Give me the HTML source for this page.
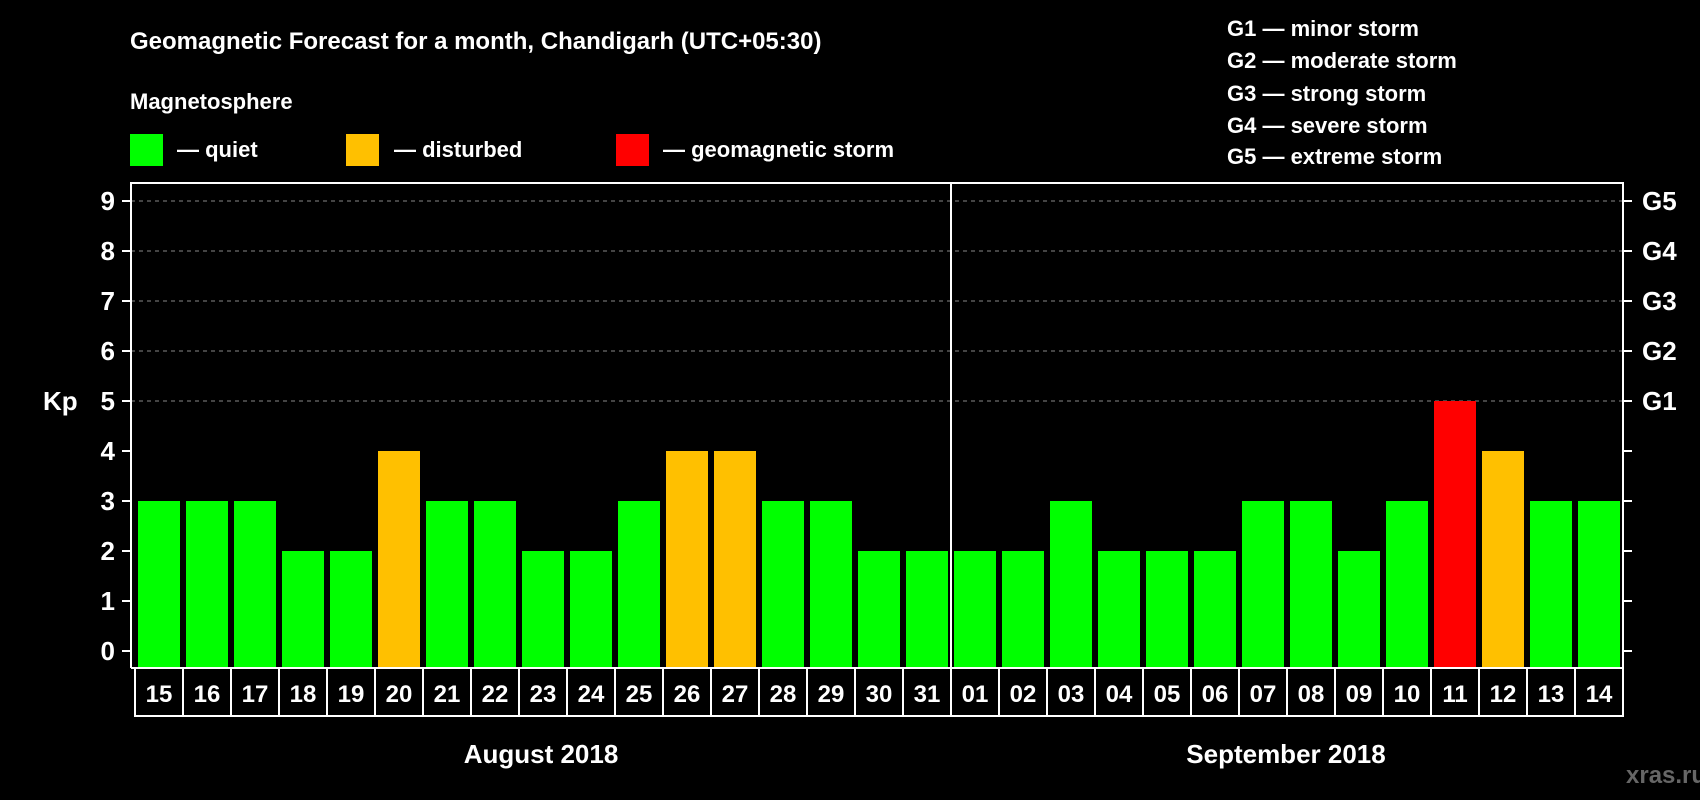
<!DOCTYPE html>
<html><head><meta charset="utf-8"><style>
html,body{margin:0;padding:0;background:#000;width:1700px;height:800px;overflow:hidden}
svg text{font-family:"Liberation Sans",Arial,sans-serif;font-weight:bold;fill:#fff}
</style></head><body>
<svg id="chart" width="1700" height="800" xmlns="http://www.w3.org/2000/svg">
<text x="130" y="49" font-size="24">Geomagnetic Forecast for a month, Chandigarh (UTC+05:30)</text>
<text x="130" y="109" font-size="22">Magnetosphere</text>
<rect x="130" y="134" width="33" height="32" fill="#00ff00"/>
<text x="177" y="157" font-size="22">— quiet</text>
<rect x="346" y="134" width="33" height="32" fill="#ffc000"/>
<text x="394" y="157" font-size="22">— disturbed</text>
<rect x="616" y="134" width="33" height="32" fill="#ff0000"/>
<text x="663" y="157" font-size="22">— geomagnetic storm</text>
<g font-size="22">
<text x="1227" y="36">G1 — minor storm</text>
<text x="1227" y="68">G2 — moderate storm</text>
<text x="1227" y="101">G3 — strong storm</text>
<text x="1227" y="133">G4 — severe storm</text>
<text x="1227" y="164">G5 — extreme storm</text>
</g>
<text x="43" y="410" font-size="26">Kp</text>
<g id="grid"></g><g id="bars"></g><g id="axes"></g><g id="labels"></g>
<text x="541" y="763" font-size="26" text-anchor="middle">August 2018</text>
<text x="1286" y="763" font-size="26" text-anchor="middle">September 2018</text>
<text x="1626" y="783" font-size="24" style="fill:#666">xras.ru</text>
</svg>
<script>
const days=["15","16","17","18","19","20","21","22","23","24","25","26","27","28","29","30","31","01","02","03","04","05","06","07","08","09","10","11","12","13","14"];
const kp=[3,3,3,2,2,4,3,3,2,2,3,4,4,3,3,2,2,2,2,3,2,2,2,3,3,2,3,5,4,3,3];
const yTicks=[0,1,2,3,4,5,6,7,8,9];
const gLabels=["G1","G2","G3","G4","G5"];
const NS="http://www.w3.org/2000/svg";
const L=131,R=1623,T=183,B=668,x0=135,slot=48;
const y=v=>651-50*v;
const xs=i=>x0+i*slot;
function mk(tag,attrs,parent,txt){const e=document.createElementNS(NS,tag);for(const k in attrs)e.setAttribute(k,attrs[k]);if(txt!=null)e.textContent=txt;document.getElementById(parent).appendChild(e);return e;}
yTicks.forEach(v=>{
 if(v>=5){const g=mk('line',{x1:L,x2:R,y1:y(v),y2:y(v),stroke:'#888','stroke-width':1,'stroke-dasharray':'4,4'},'grid');
 
 }
 const t=mk('line',{x1:L-9,x2:L,y1:y(v),y2:y(v),stroke:'#fff','stroke-width':2},'axes');
 
 
 const t2=mk('line',{x1:R,x2:R+9,y1:y(v),y2:y(v),stroke:'#fff','stroke-width':2},'axes');
 
 
 const lb=mk('text',{x:115,y:y(v)+9,'font-size':26,'text-anchor':'end'},'axes',String(v));
 
 
});
gLabels.forEach((g,i)=>{
 const lb=mk('text',{x:1642,y:y(5+i)+9,'font-size':26},'axes',g);
 
 
});
kp.forEach((v,i)=>{
 const c=v>=5?'#ff0000':v>=4?'#ffc000':'#00ff00';
 const b=mk('rect',{x:xs(i)+3,y:y(v),width:42,height:B-y(v),fill:c},'bars');
 
 
});
const frame=mk('path',{d:`M${L} ${B}V${T}H${R}V${B}H${L}`,stroke:'#fff','stroke-width':2,fill:'none'},'axes');


const div=mk('line',{x1:xs(17),x2:xs(17),y1:T,y2:B,stroke:'#fff','stroke-width':2},'axes');


days.forEach((d,i)=>{
 const c=mk('rect',{x:xs(i),y:B,width:slot,height:48,fill:'none',stroke:'#fff','stroke-width':2},'labels');
 
 
 const t=mk('text',{x:xs(i)+slot/2,y:B+34,'font-size':24,'text-anchor':'middle'},'labels',d);
 
 
});
</script>
</body></html>
